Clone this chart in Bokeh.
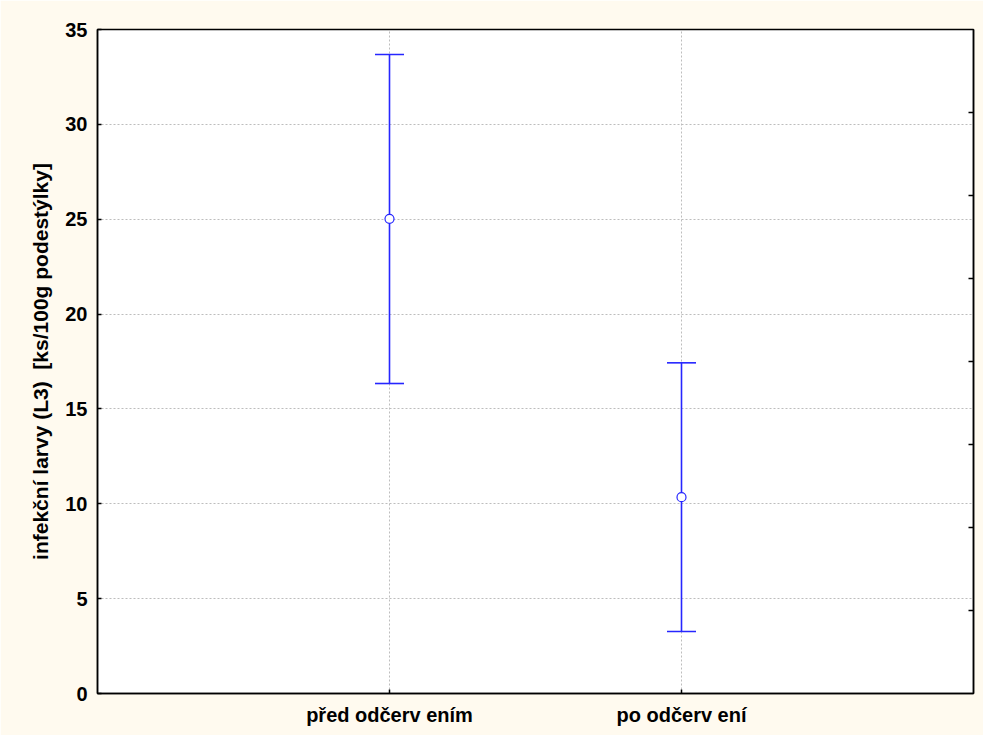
from bokeh.plotting import figure
from bokeh.models import ColumnDataSource, Whisker, TeeHead, LinearAxis, Range1d, FixedTicker, FactorRange
from bokeh.embed import file_html
from bokeh.resources import INLINE

categories = ["před odčerv ením", "po odčerv ení"]
means = [25.02, 10.35]
upper = [33.68, 17.43]
lower = [16.34, 3.27]
y_ticks = [0, 5, 10, 15, 20, 25, 30, 35]
right_ticks = [1, 2, 3, 4, 5, 6, 7]

BLUE = "#2626FF"
BG = "#FFFAEF"
FONT = "Liberation Sans"

src = ColumnDataSource(dict(x=categories, m=means, up=upper, lo=lower))

p = figure(width=983, height=735, output_backend="svg", toolbar_location=None,
           x_range=FactorRange(*categories, range_padding=0.5),
           y_range=Range1d(0, 35),
           min_border_left=97, min_border_top=29, min_border_right=10, min_border_bottom=42)
p.background_fill_color = "white"
p.border_fill_color = BG
p.outline_line_color = "black"
p.outline_line_width = 1.5

w = Whisker(source=src, base="x", upper="up", lower="lo", line_color=BLUE, line_width=1.6,
            upper_head=TeeHead(size=29, line_color=BLUE, line_width=1.6),
            lower_head=TeeHead(size=29, line_color=BLUE, line_width=1.6))
p.add_layout(w)
p.scatter("x", "m", source=src, marker="circle", size=9, fill_color="white",
          line_color=BLUE, line_width=1.2)

p.yaxis.ticker = FixedTicker(ticks=y_ticks)
p.yaxis.axis_label = "infekční larvy (L3) \u00a0[ks/100g podestýlky]"
for ax in (p.xaxis[0], p.yaxis[0]):
    ax.axis_line_color = "black"
    ax.axis_line_width = 1.5
    ax.major_tick_in = 4
    ax.major_tick_out = 0
    ax.minor_tick_line_color = None
    ax.major_label_text_font = FONT
    ax.major_label_text_font_style = "bold"
    ax.major_label_text_font_size = "20px"
    ax.major_label_text_color = "black"
    ax.major_tick_line_color = "black"
    ax.major_tick_line_width = 1.5
p.yaxis.major_label_standoff = 10
p.xaxis.major_label_standoff = 10
p.yaxis.axis_label_text_font = FONT
p.yaxis.axis_label_text_font_style = "bold"
p.yaxis.axis_label_text_font_size = "21px"
p.yaxis.axis_label_text_color = "black"
p.yaxis.axis_label_standoff = 10

p.extra_y_ranges = {"r": Range1d(0, 8)}
rax = LinearAxis(y_range_name="r", ticker=FixedTicker(ticks=right_ticks),
                 major_tick_in=5, major_tick_out=0, minor_tick_line_color=None,
                 major_label_overrides={t: "" for t in right_ticks},
                 axis_line_color="black",
                 axis_line_width=1.5, major_tick_line_width=1.5, major_label_standoff=0)
p.add_layout(rax, "right")

p.xgrid.grid_line_color = "#BDBDBD"
p.xgrid.grid_line_dash = "2 2"
p.ygrid.grid_line_color = "#BDBDBD"
p.ygrid.grid_line_dash = "2 2"

open("out.html", "w").write(file_html(p, INLINE))
